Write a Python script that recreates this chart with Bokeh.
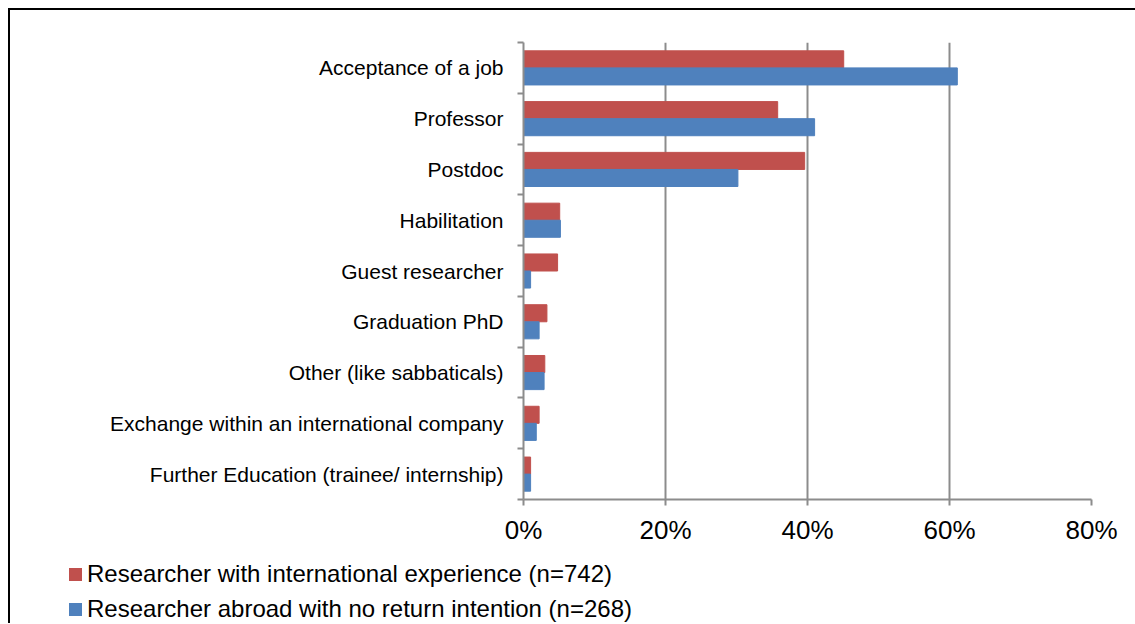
from bokeh.plotting import figure
from bokeh.layouts import column
from bokeh.models import (Range1d, LinearAxis, FixedTicker, NumeralTickFormatter,
                          ColumnDataSource, Div)
from bokeh.embed import file_html
from bokeh.resources import INLINE

categories = [
    "Acceptance of a job",
    "Professor",
    "Postdoc",
    "Habilitation",
    "Guest researcher",
    "Graduation PhD",
    "Other (like sabbaticals)",
    "Exchange within an international company",
    "Further Education (trainee/ internship)",
]
intl_experience = [0.451, 0.358, 0.396, 0.051, 0.048, 0.033, 0.030, 0.022, 0.010]
no_return = [0.611, 0.410, 0.302, 0.052, 0.010, 0.022, 0.029, 0.018, 0.010]
x_ticks = [0, 0.2, 0.4, 0.6, 0.8]
series_names = ["Researcher with international experience (n=742)",
                "Researcher abroad with no return intention (n=268)"]
RED = "#C0504D"
BLUE = "#4F81BD"
GRAY = "#8C8C8C"
FONT = "Liberation Sans"

n = len(categories)
centers = [n - 0.5 - i for i in range(n)]
BAR_H = 0.336
src = ColumnDataSource(dict(cat=categories,
                            y_red=[c + BAR_H / 2 for c in centers],
                            y_blue=[c - BAR_H / 2 for c in centers],
                            red=intl_experience, blue=no_return))

p = figure(width=1125, height=545, output_backend="svg", toolbar_location=None,
           y_range=Range1d(0, n), x_range=Range1d(0, 0.8),
           x_axis_location=None, y_axis_location=None,
           min_border_left=513, min_border_right=44, min_border_top=32, min_border_bottom=56,
           background_fill_color="white", border_fill_color="white")
p.outline_line_color = None

p.hbar(y="y_red", right="red", height=BAR_H, source=src, fill_color=RED, line_color=RED)
p.hbar(y="y_blue", right="blue", height=BAR_H, source=src, fill_color=BLUE, line_color=BLUE)

# x axis
xa = LinearAxis(ticker=FixedTicker(ticks=x_ticks), formatter=NumeralTickFormatter(format="0%"))
xa.axis_line_color = GRAY
xa.axis_line_width = 2
xa.major_tick_line_color = GRAY
xa.major_tick_line_width = 2
xa.major_tick_in = 0
xa.major_tick_out = 6
xa.minor_tick_line_color = None
xa.major_label_text_font = FONT
xa.major_label_text_font_size = "26px"
xa.major_label_text_color = "black"
xa.major_label_standoff = 9
p.add_layout(xa, "below")

# y boundary ticks
ta = LinearAxis(ticker=FixedTicker(ticks=list(range(n + 1))))
ta.major_label_overrides = {i: "" for i in range(n + 1)}
ta.major_label_standoff = 0
ta.axis_line_color = GRAY
ta.axis_line_width = 2
ta.major_tick_line_color = GRAY
ta.major_tick_line_width = 2
ta.major_tick_in = 0
ta.major_tick_out = 6
ta.minor_tick_line_color = None
p.add_layout(ta, "left")

# category labels
ca = LinearAxis(ticker=FixedTicker(ticks=centers))
ca.major_label_overrides = {c: lab for c, lab in zip(centers, categories)}
ca.axis_line_color = None
ca.major_tick_line_color = None
ca.minor_tick_line_color = None
ca.major_tick_out = 0
ca.major_tick_in = 0
ca.major_label_standoff = 14
ca.major_label_text_font = FONT
ca.major_label_text_font_size = "21px"
ca.major_label_text_color = "black"
p.add_layout(ca, "left")

p.xgrid.ticker = FixedTicker(ticks=x_ticks[1:])
p.xgrid.grid_line_color = GRAY
p.xgrid.grid_line_width = 2
p.ygrid.grid_line_color = None

# legend strip (HTML, real text)
rows = []
for i, (name, col) in enumerate(zip(series_names, [RED, BLUE])):
    top_sq = 13 + 35 * i
    top_tx = 7 + 35 * i
    rows.append(
        f'<div style="position:absolute;left:59px;top:{top_sq}px;width:13px;height:13px;'
        f'background:{col};"></div>'
        f'<div style="position:absolute;left:77px;top:{top_tx}px;font-family:\'{FONT}\';'
        f'font-size:24px;line-height:24px;color:black;white-space:nowrap;">{name}</div>'
    )
legend_div = Div(text='<div style="position:relative;width:1100px;height:68px;">' + "".join(rows) + "</div>",
                 width=1125, height=68, margin=0)

layout = column(p, legend_div, spacing=0,
                styles={"margin-left": "8px", "margin-top": "8px",
                        "border-left": "2px solid black", "border-top": "2px solid black"})

open("out.html", "w").write(file_html(layout, INLINE))
